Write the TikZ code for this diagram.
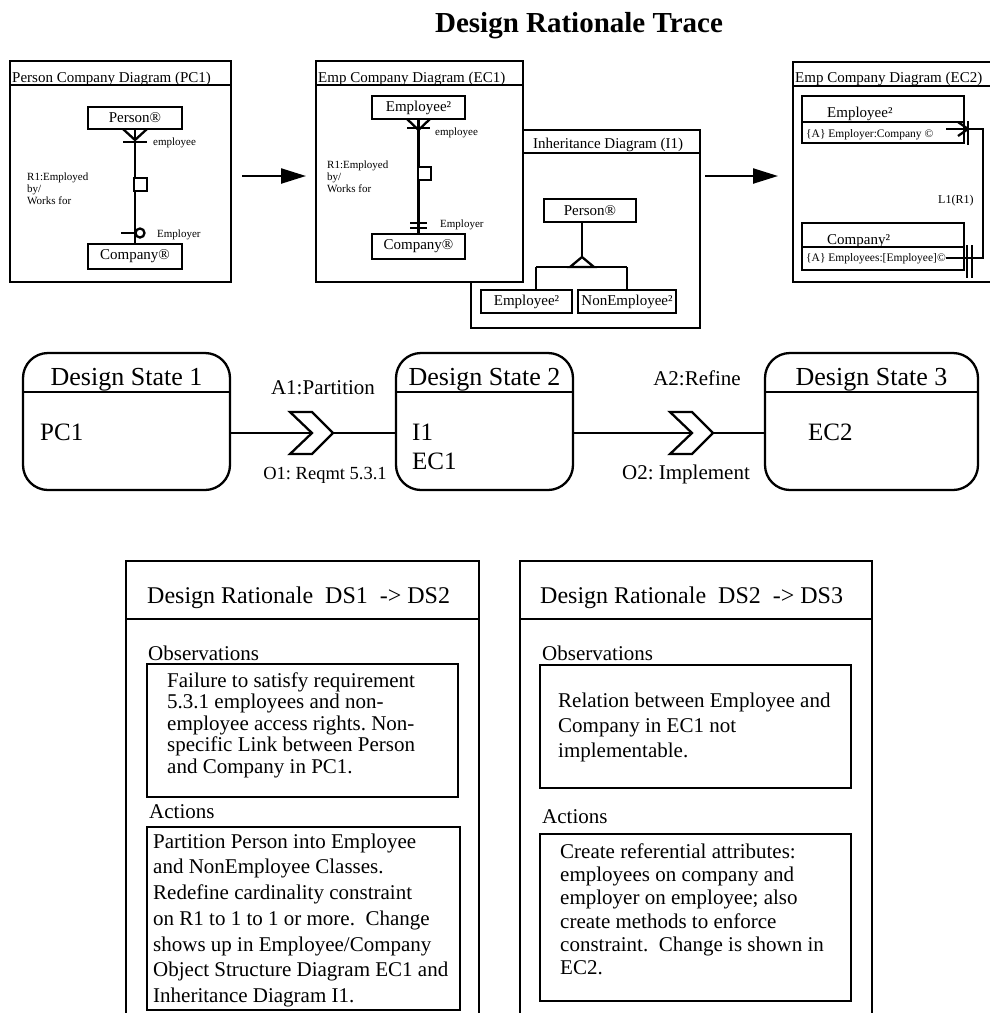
\documentclass[tikz,border=0pt]{standalone}
\usepackage{fontspec}
\setmainfont{Liberation Serif}
\usetikzlibrary{arrows.meta,calc}
\frenchspacing
\begin{document}
\begin{tikzpicture}[x=1pt,y=-1pt,
 frm/.style={draw, line width=2.3pt, fill=white, anchor=north west, inner sep=0pt, outer sep=0pt},
 clsbox/.style={draw, line width=2.7pt, fill=white, anchor=north west, inner sep=0pt, outer sep=0pt, font=\fontsize{15}{17}\selectfont},
 ln/.style={line width=2.3pt},
 smalltxt/.style={font=\fontsize{11}{12}\selectfont, inner sep=0pt, anchor=base west},
 attrtxt/.style={font=\fontsize{11.5}{12}\selectfont, inner sep=0pt, anchor=base west},
 r1txt/.style={font=\fontsize{11}{12}\selectfont, inner sep=0pt, align=left, anchor=north west},
 hdrtxt/.style={font=\fontsize{15}{17}\selectfont, inner sep=0pt, anchor=base west},
 dstitle/.style={font=\fontsize{26}{28}\selectfont, inner sep=0pt, anchor=base},
 dstext/.style={font=\fontsize{25}{28}\selectfont, inner sep=0pt, anchor=base west},
 trans/.style={font=\fontsize{21}{24}\selectfont, inner sep=0pt, anchor=base},
 statebox/.style={draw, line width=2.3pt, rounded corners=25pt, anchor=north west, inner sep=0pt, outer sep=0pt},
 chev/.style={draw, line width=2.3pt, fill=white, line join=miter},
 bigarrow/.style={line width=2.3pt, -{Triangle[length=25pt,width=15pt]}},
 drhead/.style={font=\fontsize{24}{28}\selectfont, inner sep=0pt, anchor=base west},
 sect/.style={font=\fontsize{21}{24}\selectfont, inner sep=0pt, anchor=base west},
 para/.style={font=\fontsize{21}{21.5}\selectfont, inner sep=0pt, align=left, anchor=north west},
 textbox/.style={draw, line width=2.7pt, anchor=north west, inner sep=0pt, outer sep=0pt},
]
\useasboundingbox (0,0) rectangle (990,1013);

% title
\node[font=\fontsize{29}{32}\selectfont\bfseries, inner sep=0pt, anchor=base] (title) at (579,32) {Design Rationale Trace};

% ---------- Inheritance diagram I1 (behind EC1)
\node[frm, minimum width=229pt, minimum height=198pt] (i1) at (471,130) {};
\draw[ln] (471,153) -- (700,153);
\node[hdrtxt] (i1h) at (533,148) {Inheritance Diagram (I1)};
\node[clsbox, minimum width=92pt, minimum height=23pt] (iperson) at (544,199) {Person®};
\node[clsbox, minimum width=91pt, minimum height=23pt] (iemp) at (481,290) {Employee²};
\node[clsbox, minimum width=98pt, minimum height=23pt] (inon) at (578,290) {NonEmployee²};
\coordinate (iapex) at (582,257);
\coordinate (ibl) at (536,267);
\coordinate (ibr) at (627,267);
\draw[ln] ($(iperson.south)+(-8,0)$) -- (iapex);
\draw[ln] (ibl) -- (ibr);
\draw[ln] (ibl) -- ($(iemp.north)+(9.5,0)$);
\draw[ln] (ibr) -- (inon.north);
\draw[ln, fill=white, line join=miter] (iapex) -- (594,267) -- (570,267) -- cycle;

% ---------- PC1
\node[frm, minimum width=221pt, minimum height=221pt] (pc1) at (10,61) {};
\draw[ln] (10,85) -- (231,85);
\node[hdrtxt] (pc1h) at (12,82) {Person Company Diagram (PC1)};
\node[clsbox, minimum width=94pt, minimum height=22pt] (pperson) at (88,107) {Person®};
\node[clsbox, minimum width=94pt, minimum height=25pt] (pcomp) at (88,244) {Company®};
\draw[ln] (pperson.south) -- (pcomp.north);
\draw[ln] (123,129) -- (135,140) -- (147,129);
\draw[ln] (123,142) -- (147,142);
\node[draw, ln, fill=white, minimum size=13pt, inner sep=0pt, anchor=north west] (psq) at (133,177) {};
\draw[ln] (121,233) -- (135,233);
\node[circle, draw, ln, fill=white, minimum size=9pt, inner sep=0pt] (pcirc) at (140,233) {};
\node[smalltxt] (pemp) at (153,145) {employee};
\node[smalltxt] (pempr) at (157,237) {Employer};
\node[r1txt] (pr1) at (27,173) {R1:Employed\\by/\\Works for};

% ---------- EC1
\node[frm, minimum width=207pt, minimum height=221pt] (ec1) at (316,61) {};
\draw[ln] (316,85) -- (523,85);
\node[hdrtxt] (ec1h) at (318,82) {Emp Company Diagram (EC1)};
\node[clsbox, minimum width=93pt, minimum height=23pt] (eemp) at (372,96) {Employee²};
\node[clsbox, minimum width=93pt, minimum height=25pt] (ecomp) at (372,234) {Company®};
\draw[ln] (eemp.south) -- (ecomp.north);
\draw[ln] (407,119) -- (418.5,130) -- (430,119);
\draw[ln] (407,128) -- (430,128);
\node[draw, ln, fill=white, minimum size=13pt, inner sep=0pt, anchor=north west] (esq) at (417,166) {};
\draw[ln] (410,223) -- (427,223);
\draw[ln] (410,228) -- (427,228);
\node[smalltxt] (eempl) at (435,135) {employee};
\node[smalltxt] (eemplr) at (440,227) {Employer};
\node[r1txt] (er1) at (327,161) {R1:Employed\\by/\\Works for};

% ---------- EC2
\draw[ln] (990,62) -- (793,62) -- (793,282) -- (990,282);
\draw[ln] (793,86) -- (990,86);
\node[hdrtxt] (ec2h) at (795,82) {Emp Company Diagram (EC2)};
\node[clsbox, minimum width=162pt, minimum height=26pt] (e2n) at (802,96) {};
\node[clsbox, minimum width=162pt, minimum height=21pt] (e2a) at (802,122) {};
\node[hdrtxt] (e2nt) at (827,117) {Employee²};
\node[attrtxt] (e2at) at (806,137) {\{A\} Employer:Company ©};
\node[clsbox, minimum width=162pt, minimum height=24pt] (c2n) at (802,223) {};
\node[clsbox, minimum width=162pt, minimum height=23pt] (c2a) at (802,247) {};
\node[hdrtxt] (c2nt) at (827,244) {Company²};
\node[attrtxt] (c2at) at (806,261) {\{A\} Employees:[Employee]©};
\coordinate (l1s) at (946,129);
\coordinate (l1e) at (946,258);
\draw[ln] (l1s) -- ++(37,0) |- (l1e);
\draw[ln, line join=miter] (958,122) -- (968,129) -- (958,136);
\draw[ln] (968,121) -- (968,145);
\draw[ln] (967,245) -- (967,278);
\draw[ln] (972,245) -- (972,278);
\node[font=\fontsize{12}{14}\selectfont, inner sep=0pt, anchor=base west] (l1lab) at (938,203) {L1(R1)};

% ---------- arrows between diagrams
\coordinate (a2e) at (778,176);
\draw[bigarrow] ($(pc1.east)+(11,4.5)$) -- ($(ec1.west)+(-10,4.5)$);
\draw[bigarrow] ($(i1.east)+(5,-53)$) -- (a2e);

% ---------- design states
\node[statebox, minimum width=207pt, minimum height=137pt] (ds1) at (23,353) {};
\draw[ln] (23,392) -- (230,392);
\node[dstitle] (ds1t) at (126.5,385) {Design State 1};
\node[dstext] (ds1c) at (40,440) {PC1};

\node[statebox, minimum width=177pt, minimum height=137pt] (ds2) at (396,353) {};
\draw[ln] (396,392) -- (573,392);
\node[dstitle] (ds2t) at (484.5,385) {Design State 2};
\node[dstext] (ds2c1) at (412,440) {I1};
\node[dstext] (ds2c2) at (412,469) {EC1};

\node[statebox, minimum width=213pt, minimum height=137pt] (ds3) at (765,353) {};
\draw[ln] (765,392) -- (978,392);
\node[dstitle] (ds3t) at (871.5,385) {Design State 3};
\node[dstext] (ds3c) at (808,440) {EC2};

\coordinate (c1n) at (312,433);
\coordinate (c1t) at (333,433);
\draw[ln] (ds1.east |- c1n) -- (c1n);
\draw[ln] (c1t) -- (ds2.west |- c1t);
\draw[chev] (290,412) -- (312,412) -- (c1t) -- (312,454) -- (290,454) -- (c1n) -- cycle;

\coordinate (c2n) at (692,433);
\coordinate (c2t) at (713,433);
\draw[ln] (ds2.east |- c2n) -- (c2n);
\draw[ln] (c2t) -- (ds3.west |- c2t);
\draw[chev] (670,412) -- (692,412) -- (c2t) -- (692,454) -- (670,454) -- (c2n) -- cycle;

\node[trans] (a1) at (323,394) {A1:Partition};
\node[trans, font=\fontsize{18.5}{22}\selectfont] (o1) at (325,479) {O1: Reqmt 5.3.1};
\node[trans] (a2) at (697,385) {A2:Refine};
\node[trans] (o2) at (686,479) {O2: Implement};

% ---------- rationale DS1 -> DS2
\draw[ln] (126,1013) -- (126,561) -- (479,561) -- (479,1013);
\draw[ln] (126,619) -- (479,619);
\node[drhead] (r1h) at (147,603) {Design Rationale\ \ DS1\ \ -> DS2};
\node[sect] (r1o) at (148,660) {Observations};
\node[textbox, minimum width=311pt, minimum height=133pt] (o1box) at (147,664) {};
\node[para] (o1txt) at (167,672.5) {Failure to satisfy requirement\\5.3.1 employees and non-\\employee access rights. Non-\\specific Link between Person\\and Company in PC1.};
\node[sect] (r1a) at (149,818) {Actions};
\node[textbox, minimum width=313pt, minimum height=183pt] (a1box) at (147,827) {};
\node[para, font=\fontsize{21}{25.7}\selectfont] (a1txt) at (153,833.5) {Partition Person into Employee\\and NonEmployee Classes.\\Redefine cardinality constraint\\on R1 to 1 to 1 or more.\ \ Change\\shows up in Employee/Company\\Object Structure Diagram EC1 and\\Inheritance Diagram I1.};

% ---------- rationale DS2 -> DS3
\draw[ln] (520,1013) -- (520,561) -- (872,561) -- (872,1013);
\draw[ln] (520,619) -- (872,619);
\node[drhead] (r2h) at (540,603) {Design Rationale\ \ DS2\ \ -> DS3};
\node[sect] (r2o) at (542,660) {Observations};
\node[textbox, minimum width=311pt, minimum height=123pt] (o2box) at (540,665) {};
\node[para, font=\fontsize{21}{25}\selectfont] (o2txt) at (558,692.5) {Relation between Employee and\\Company in EC1 not\\implementable.};
\node[sect] (r2a) at (542,823) {Actions};
\node[textbox, minimum width=311pt, minimum height=167pt] (a2box) at (540,834) {};
\node[para, font=\fontsize{21}{23.2}\selectfont] (a2txt) at (560,843.5) {Create referential attributes:\\employees on company and\\employer on employee; also\\create methods to enforce\\constraint.\ \ Change is shown in\\EC2.};
\end{tikzpicture}
\end{document}
